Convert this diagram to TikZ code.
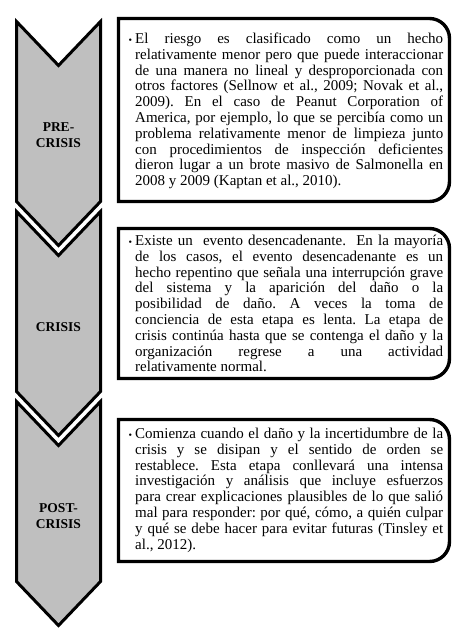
\documentclass[tikz,border=0pt]{standalone}
\usepackage{fontspec}
\setmainfont{Liberation Serif}
\frenchspacing
\definecolor{chevgray}{RGB}{191,191,191}
\newcommand\jl[1]{\makebox[\linewidth][s]{#1}\\}
\newcommand\bul{\leavevmode\llap{{\fontsize{10pt}{10pt}\selectfont\textbullet}\hspace{3pt}}}
\newcommand\bodyfont{\fontsize{15pt}{15.8pt}\selectfont\frenchspacing}
\begin{document}
\begin{tikzpicture}[x=1pt,y=1pt,
  chev/.style={fill=chevgray,draw=black,line width=3pt,line join=miter},
  stagebox/.style={fill=white,draw=black,line width=3.4pt},
  stagelabel/.style={align=center,inner sep=0pt,font=\fontsize{13.5pt}{16pt}\selectfont\bfseries},
  txt/.style={anchor=base west,inner sep=0pt}]
\useasboundingbox (0,0) rectangle (471,-629);
\fill[white] (0,0) rectangle (471,-629);
% chevrons
\foreach \t in {21.5,211.5,401.5}{
  \draw[chev] (16.5,-\t) -- (58.5,-\t-44) -- (100.5,-\t) -- (100.5,-\t-180)
     -- (58.5,-\t-224) -- (16.5,-\t-180) -- cycle;
}
\node[stagelabel] (l1) at (58.5,-135) {PRE-\\CRISIS};
\node[stagelabel] (l2) at (58.5,-327) {CRISIS};
\node[stagelabel] (l3) at (58.5,-516.5) {POST-\\CRISIS};
% boxes
\def\R{20}
\draw[stagebox] (118.5,-18.5) -- (449.5-\R,-18.5) arc[start angle=90,end angle=0,radius=\R]
   -- (449.5,-201.5+\R) arc[start angle=0,end angle=-90,radius=\R] -- (118.5,-201.5) -- cycle;
\draw[stagebox] (118.5,-228.5) -- (449.5-\R,-228.5) arc[start angle=90,end angle=0,radius=\R]
   -- (449.5,-378.5+\R) arc[start angle=0,end angle=-90,radius=\R] -- (118.5,-378.5) -- cycle;
\draw[stagebox] (118.5,-419.5) -- (449.5-\R,-419.5) arc[start angle=90,end angle=0,radius=\R]
   -- (449.5,-561.5+\R) arc[start angle=0,end angle=-90,radius=\R] -- (118.5,-561.5) -- cycle;
% texts
\node[txt] (t1) at (135,-43.5) {\parbox[t]{308pt}{\bodyfont
\bul\jl{El riesgo es clasificado como un hecho}
\jl{relativamente menor pero que puede interaccionar}
\jl{de una manera no lineal y desproporcionada con}
\jl{otros factores (Sellnow et al., 2009; Novak et al.,}
\jl{2009). En el caso de Peanut Corporation of}
\jl{America, por ejemplo, lo que se percibía como un}
\jl{problema relativamente menor de limpieza junto}
\jl{con procedimientos de inspección deficientes}
\jl{dieron lugar a un brote masivo de Salmonella en}
2008 y 2009 (Kaptan et al., 2010).}};
\node[txt] (t2) at (135,-245.5) {\parbox[t]{308pt}{\bodyfont
\bul\jl{Existe un\ \ evento desencadenante.\ \ En la mayoría}
\jl{de los casos, el evento desencadenante es un}
\jl{hecho repentino que señala una interrupción grave}
\jl{del sistema y la aparición del daño o la}
\jl{posibilidad de daño. A veces la toma de}
\jl{conciencia de esta etapa es lenta. La etapa de}
\jl{crisis continúa hasta que se contenga el daño y la}
\jl{organización regrese a una actividad}
relativamente normal.}};
\node[txt] (t3) at (135,-438.5) {\parbox[t]{308pt}{\bodyfont
\bul\jl{Comienza cuando el daño y la incertidumbre de la}
\jl{crisis y se disipan y el sentido de orden se}
\jl{restablece. Esta etapa conllevará una intensa}
\jl{investigación y análisis que incluye esfuerzos}
\jl{para crear explicaciones plausibles de lo que salió}
\jl{mal para responder: por qué, cómo, a quién culpar}
\jl{y qué se debe hacer para evitar futuras (Tinsley et}
al., 2012).}};
\end{tikzpicture}
\end{document}
